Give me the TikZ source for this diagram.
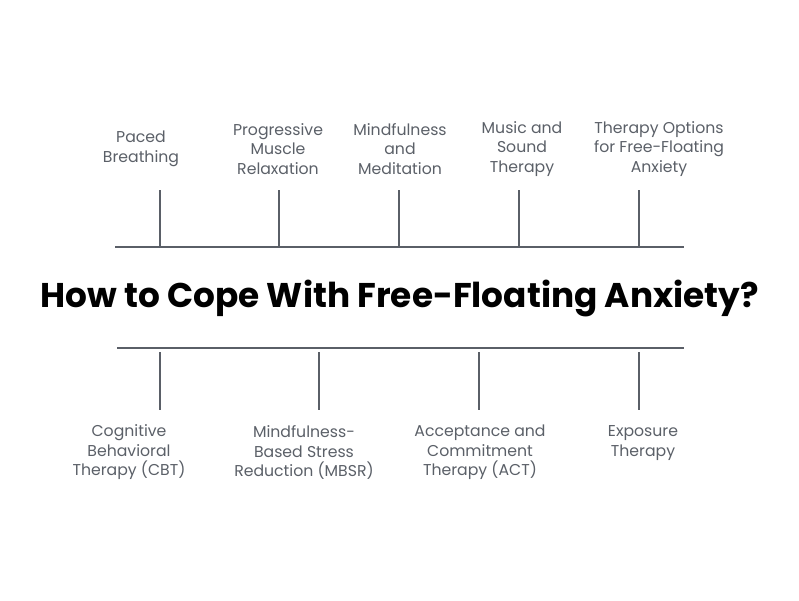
\documentclass[tikz,border=0pt]{standalone}
\usepackage{fontspec}
\setmainfont{Poppins}
\definecolor{txtgray}{HTML}{5B6068}
\definecolor{linegray}{HTML}{5A5F67}
\begin{document}
\begin{tikzpicture}[x=1pt,y=-1pt,
  lbl/.style={align=center,text=txtgray,font=\fontsize{15.7}{19.5}\selectfont,inner sep=0pt},
  ttl/.style={font=\fontsize{34.3}{40}\selectfont\bfseries,text=black,inner sep=0pt},
  ln/.style={draw=linegray,line width=2pt}]
\useasboundingbox (0,0) rectangle (799,600);
\fill[white] (0,0) rectangle (799,600);
% title
\node[ttl] (title) at (399.5,298) {How to Cope With Free-Floating Anxiety?};
% top line
\coordinate (tl) at (115,247);
\coordinate (tr) at (684,247);
\draw[ln] (tl) -- (tr);
\foreach \n/\x in {a/160,b/279,c/399,d/519,e/639}{
  \coordinate (t\n top) at (\x,190);
  \coordinate (t\n bot) at (\x,247);
  \draw[ln] (t\n top) -- (t\n bot);
}
\node[lbl] (paced) at (141,149) {Paced\\Breathing};
\node[lbl] (pmr) at (278,149) {Progressive\\Muscle\\Relaxation};
\node[lbl] (mind) at (400,149) {Mindfulness\\and\\Meditation};
\node[lbl] (music) at (522,149) {Music and\\Sound\\Therapy};
\node[lbl] (ther) at (659,149) {Therapy Options\\for Free-Floating\\Anxiety};
% bottom line
\coordinate (bl) at (117,348);
\coordinate (br) at (684,348);
\draw[ln] (bl) -- (br);
\foreach \n/\x in {a/160,b/319,c/479,d/639}{
  \coordinate (b\n top) at (\x,352);
  \coordinate (b\n bot) at (\x,410);
  \draw[ln] (b\n top) -- (b\n bot);
}
\node[lbl] (cbt) at (129,452.5) {Cognitive\\Behavioral\\Therapy (CBT)};
\node[lbl] (mbsr) at (304,452.5) {Mindfulness-\\Based Stress\\Reduction (MBSR)};
\node[lbl] (act) at (480,452.5) {Acceptance and\\Commitment\\Therapy (ACT)};
\node[lbl] (expo) at (643,443) {Exposure\\Therapy};
\end{tikzpicture}
\end{document}
